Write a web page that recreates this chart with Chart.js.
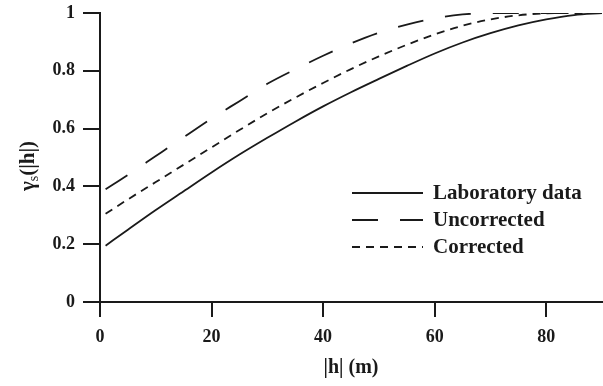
<!DOCTYPE html>
<html>
<head>
<meta charset="utf-8">
<script src="https://cdn.jsdelivr.net/npm/chart.js@4.4.0/dist/chart.umd.min.js"></script>
<style>
  html, body { margin: 0; padding: 0; background: #fff; }
</style>
</head>
<body>
<canvas id="chart" width="603" height="386"></canvas>
<script>
const lag = [1, 5, 10, 15, 20, 25, 30, 35, 40, 45, 50, 55, 60, 65, 70, 75, 80, 85, 90];
const laboratory = [0.195, 0.25, 0.318, 0.383, 0.448, 0.51, 0.568, 0.624, 0.677, 0.726, 0.772, 0.817, 0.86, 0.898, 0.93, 0.957, 0.978, 0.993, 1];
const uncorrected = [0.39, 0.44, 0.505, 0.57, 0.635, 0.695, 0.755, 0.805, 0.852, 0.895, 0.932, 0.96, 0.982, 0.995, 1, 1, 1, 1, 1];
const corrected = [0.305, 0.355, 0.415, 0.475, 0.535, 0.595, 0.653, 0.707, 0.758, 0.806, 0.85, 0.89, 0.926, 0.956, 0.978, 0.992, 0.999, 1, 1];
const xTicks = [0, 20, 40, 60, 80];
const yTicks = [0, 0.2, 0.4, 0.6, 0.8, 1];

const ink = "#1a1a1a";
const serif = "'Liberation Serif', 'Times New Roman', serif";

const toPoints = (ys) => ys.map((y, i) => ({ x: lag[i], y }));

// legend drawn inside the plot, right of centre
const insideLegend = {
  id: "insideLegend",
  afterDatasetsDraw(chart) {
    const { ctx, chartArea } = chart;
    const x0 = chartArea.left + 252;
    const y0 = chartArea.top + 180;
    ctx.save();
    ctx.font = "bold 21px " + serif;
    ctx.textBaseline = "middle";
    ctx.fillStyle = ink;
    chart.data.datasets.forEach((ds, i) => {
      const y = y0 + i * 27;
      ctx.strokeStyle = ink;
      ctx.lineWidth = ds.borderWidth;
      ctx.setLineDash(ds.borderDash || []);
      ctx.beginPath();
      ctx.moveTo(x0, y);
      ctx.lineTo(x0 + 71, y);
      ctx.stroke();
      ctx.setLineDash([]);
      ctx.fillText(ds.label, x0 + 81, y + 1);
    });
    ctx.restore();
  }
};

// y title with subscript s
const yTitle = {
  id: "yTitle",
  afterDraw(chart) {
    const { ctx } = chart;
    ctx.save();
    ctx.translate(29, 166);
    ctx.rotate(-Math.PI / 2);
    ctx.fillStyle = ink;
    ctx.textBaseline = "middle";
    const big = "bold 21px " + serif;
    const small = "14px " + serif;
    ctx.font = big;
    const w1 = ctx.measureText("γ").width;
    const w3 = ctx.measureText("(|h|)").width;
    ctx.font = small;
    const w2 = ctx.measureText("s").width;
    let x = -(w1 + w2 + w3) / 2;
    ctx.font = big;
    ctx.fillText("γ", x, 0);
    x += w1;
    ctx.font = small;
    ctx.fillText("s", x, 5);
    x += w2;
    ctx.font = big;
    ctx.fillText("(|h|)", x, 0);
    ctx.restore();
  }
};

new Chart(document.getElementById("chart"), {
  type: "line",
  data: {
    datasets: [
      { label: "Laboratory data", data: toPoints(laboratory), borderColor: ink, borderWidth: 1.8, pointRadius: 0, cubicInterpolationMode: "monotone", fill: false },
      { label: "Uncorrected", data: toPoints(uncorrected), borderColor: ink, borderWidth: 1.8, borderDash: [26, 22], pointRadius: 0, cubicInterpolationMode: "monotone", fill: false },
      { label: "Corrected", data: toPoints(corrected), borderColor: ink, borderWidth: 1.8, borderDash: [8, 6], pointRadius: 0, cubicInterpolationMode: "monotone", fill: false }
    ]
  },
  options: {
    responsive: false,
    animation: false,
    layout: { padding: { top: 13, right: 1, left: 0, bottom: 0 } },
    plugins: {
      legend: { display: false },
      tooltip: { enabled: false }
    },
    scales: {
      x: {
        type: "linear",
        min: 0,
        max: 90,
        afterBuildTicks: (axis) => { axis.ticks = xTicks.map((v) => ({ value: v })); },
        afterFit: (axis) => { axis.height = 84; axis.paddingLeft = 0; axis.paddingRight = 0; },
        border: { display: true, color: ink, width: 2 },
        grid: { drawOnChartArea: false, drawTicks: true, tickLength: 15, color: ink, lineWidth: 2 },
        ticks: { color: ink, padding: 10, maxRotation: 0, font: { family: serif, size: 18, weight: "bold" } },
        title: { display: true, text: "|h| (m)", color: ink, padding: { top: 2, bottom: 6 }, font: { family: serif, size: 20, weight: "bold" } }
      },
      y: {
        min: 0,
        max: 1,
        afterBuildTicks: (axis) => { axis.ticks = yTicks.map((v) => ({ value: v })); },
        afterFit: (axis) => { axis.width = 100; axis.paddingTop = 0; axis.paddingBottom = 0; },
        border: { display: true, color: ink, width: 2 },
        grid: { drawOnChartArea: false, drawTicks: true, tickLength: 17, color: ink, lineWidth: 2 },
        ticks: { color: ink, padding: 8, callback: (v) => String(v), font: { family: serif, size: 18, weight: "bold" } }
      }
    }
  },
  plugins: [insideLegend, yTitle]
});
</script>
</body>
</html>
